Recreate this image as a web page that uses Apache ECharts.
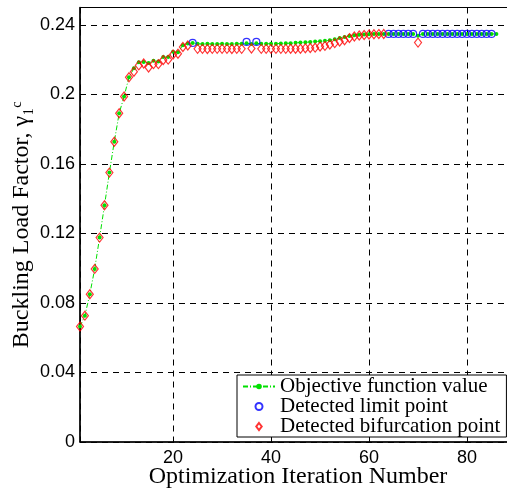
<!DOCTYPE html>
<html><head><meta charset="utf-8">
<script src="https://cdn.jsdelivr.net/npm/echarts@6/dist/echarts.min.js"></script>
<style>html,body{margin:0;padding:0;background:#fff}#c{width:507px;height:489px}</style>
</head><body><div id="c"></div>
<script>
// Objective function value per optimization iteration
const objIter = [1,2,3,4,5,6,7,8,9,10,11,12,13,14,15,16,17,18,19,20,21,22,23,24,25,26,27,28,29,30,
  31,32,33,34,35,36,37,38,39,40,41,42,43,44,45,46,47,48,49,50,51,52,53,54,55,56,57,58,59,60,
  61,62,63,64,65,66,67,68,69,70,71,72,73,74,75,76,77,78,79,80,81,82,83,84,85,86];
const objVal = [0.0664,0.0727,0.0850,0.0996,0.1176,0.1362,0.1550,0.1728,0.1892,0.1988,
  0.2099,0.2150,0.2185,0.2187,0.2180,0.2193,0.2190,0.2215,0.2215,0.2245,
  0.2243,0.2283,0.2293,0.2296,0.2291,0.2290,0.2291,0.2290,0.2290,0.2291,
  0.2290,0.2290,0.2291,0.2291,0.2294,0.2290,0.2294,0.2291,0.2291,0.2292,
  0.2292,0.2293,0.2294,0.2295,0.2297,0.2298,0.2300,0.2302,0.2304,0.2306,
  0.2308,0.2312,0.2318,0.2325,0.2330,0.2336,0.2340,0.2343,0.2345,0.2346,
  0.2347,0.2347,0.2347,0.2347,0.2348,0.2348,0.2348,0.2348,0.2348,0.2338,
  0.2348,0.2348,0.2348,0.2348,0.2348,0.2348,0.2348,0.2348,0.2348,0.2348,
  0.2348,0.2348,0.2348,0.2348,0.2348,0.2348];

// Detected limit points
const limitIter = [24,35,37,64,65,66,67,68,69,71,72,73,74,75,76,77,78,79,80,81,82,83,84,85];
const limitVal = [0.2296,0.2302,0.2302,0.2348,0.2348,0.2348,0.2348,0.2348,0.2348,
  0.2348,0.2348,0.2348,0.2348,0.2348,0.2348,0.2348,0.2348,0.2348,0.2348,0.2348,0.2348,0.2348,0.2348,0.2348];

// Detected bifurcation points
const bifIter = [1,2,3,4,5,6,7,8,9,10,11,12,13,14,15,16,17,18,19,20,21,22,23,
  25,26,27,28,29,30,31,32,33,34,36,38,39,40,41,42,43,44,45,46,47,48,49,50,
  51,52,53,54,55,56,57,58,59,60,61,62,63,70];
const bifVal = [0.0664,0.0727,0.0850,0.0996,0.1176,0.1362,0.1550,0.1728,0.1892,0.1988,
  0.2099,0.2130,0.2167,0.2178,0.2155,0.2174,0.2174,0.2198,0.2200,0.2230,0.2234,0.2273,0.2281,
  0.2262,0.2262,0.2261,0.2262,0.2262,0.2262,0.2262,0.2261,0.2262,0.2262,0.2264,
  0.2262,0.2262,0.2262,0.2262,0.2262,0.2262,0.2263,0.2263,0.2263,0.2265,0.2267,0.2269,0.2275,
  0.2279,0.2287,0.2295,0.2304,0.2312,0.2324,0.2333,0.2339,0.2342,0.2345,0.2346,0.2347,0.2348,
  0.2298];

const names = ['Objective function value','Detected limit point','Detected bifurcation point'];

const chart = echarts.init(document.getElementById('c'), null, {renderer:'canvas'});
const serif = 'Liberation Serif';
const sans = 'Liberation Sans';
chart.setOption({
  animation: false,
  backgroundColor: '#fff',
  grid: {left: 80, right: -9, top: 7.5, bottom: 47, outerBoundsMode: 'none', containLabel: false,
    show: true, borderColor: '#000', borderWidth: 1, backgroundColor: '#fff'},
  xAxis: {
    type: 'value', min: 1, max: 90, splitNumber: 5,
    name: 'Optimization Iteration Number', nameLocation: 'middle', nameGap: 23, nameMoveOverlap: false,
    nameTextStyle: {fontFamily: serif, fontSize: 24, color: '#000'},
    axisLine: {show: true, lineStyle: {color: '#000', width: 1.5}},
    axisTick: {show: true, inside: true, length: 5, lineStyle: {color: '#000'}},
    axisLabel: {showMinLabel: false, showMaxLabel: false, color: '#000', fontSize: 18, fontFamily: sans, margin: 7},
    splitLine: {show: true, lineStyle: {color: '#000', width: 1, type: [6, 5]}}
  },
  yAxis: {
    type: 'value', min: 0, max: 0.25, interval: 0.04,
    name: 'Buckling Load Factor, γ₁ᶜ', nameLocation: 'middle', nameGap: 46, nameMoveOverlap: false,
    nameTextStyle: {fontFamily: serif, fontSize: 24, color: '#000'},
    axisLine: {show: true, lineStyle: {color: '#000', width: 1.5}},
    axisTick: {show: true, inside: true, length: 5, lineStyle: {color: '#000'}},
    axisLabel: {showMaxLabel: false, color: '#000', fontSize: 18, fontFamily: sans, margin: 5},
    splitLine: {show: true, lineStyle: {color: '#000', width: 1, type: [6, 5]}}
  },
  legend: {
    orient: 'vertical', left: 237, top: 375,
    padding: [1, 6, 0, 5], itemGap: -1, itemWidth: 32, itemHeight: 7,
    backgroundColor: '#fff', borderColor: '#000', borderWidth: 1, borderRadius: 0,
    textStyle: {fontFamily: serif, fontSize: 21, color: '#000'},
    data: [
      {name: names[0]},
      {name: names[1]},
      {name: names[2], icon: 'path://M0,0 L3.5,4.5 L0,9 L-3.5,4.5 Z'}
    ]
  },
  series: [
    {
      name: names[0], type: 'line', z: 2,
      data: objIter.map((x, i) => [x, objVal[i]]),
      symbol: 'circle', symbolSize: 4, showSymbol: true,
      itemStyle: {color: '#00e000'},
      lineStyle: {color: '#00e000', width: 1, type: [5, 2, 1, 2]}
    },
    {
      name: names[1], type: 'scatter', z: 3,
      data: limitIter.map((x, i) => [x, limitVal[i]]),
      symbol: 'circle', symbolSize: 7,
      itemStyle: {color: 'transparent', borderColor: '#0000ff', borderWidth: 1.2}
    },
    {
      name: names[2], type: 'scatter', z: 4,
      data: bifIter.map((x, i) => [x, bifVal[i]]),
      symbol: 'diamond', symbolSize: [7, 9],
      itemStyle: {color: 'transparent', borderColor: '#ff0000', borderWidth: 1.2}
    }
  ]
});
</script></body></html>
